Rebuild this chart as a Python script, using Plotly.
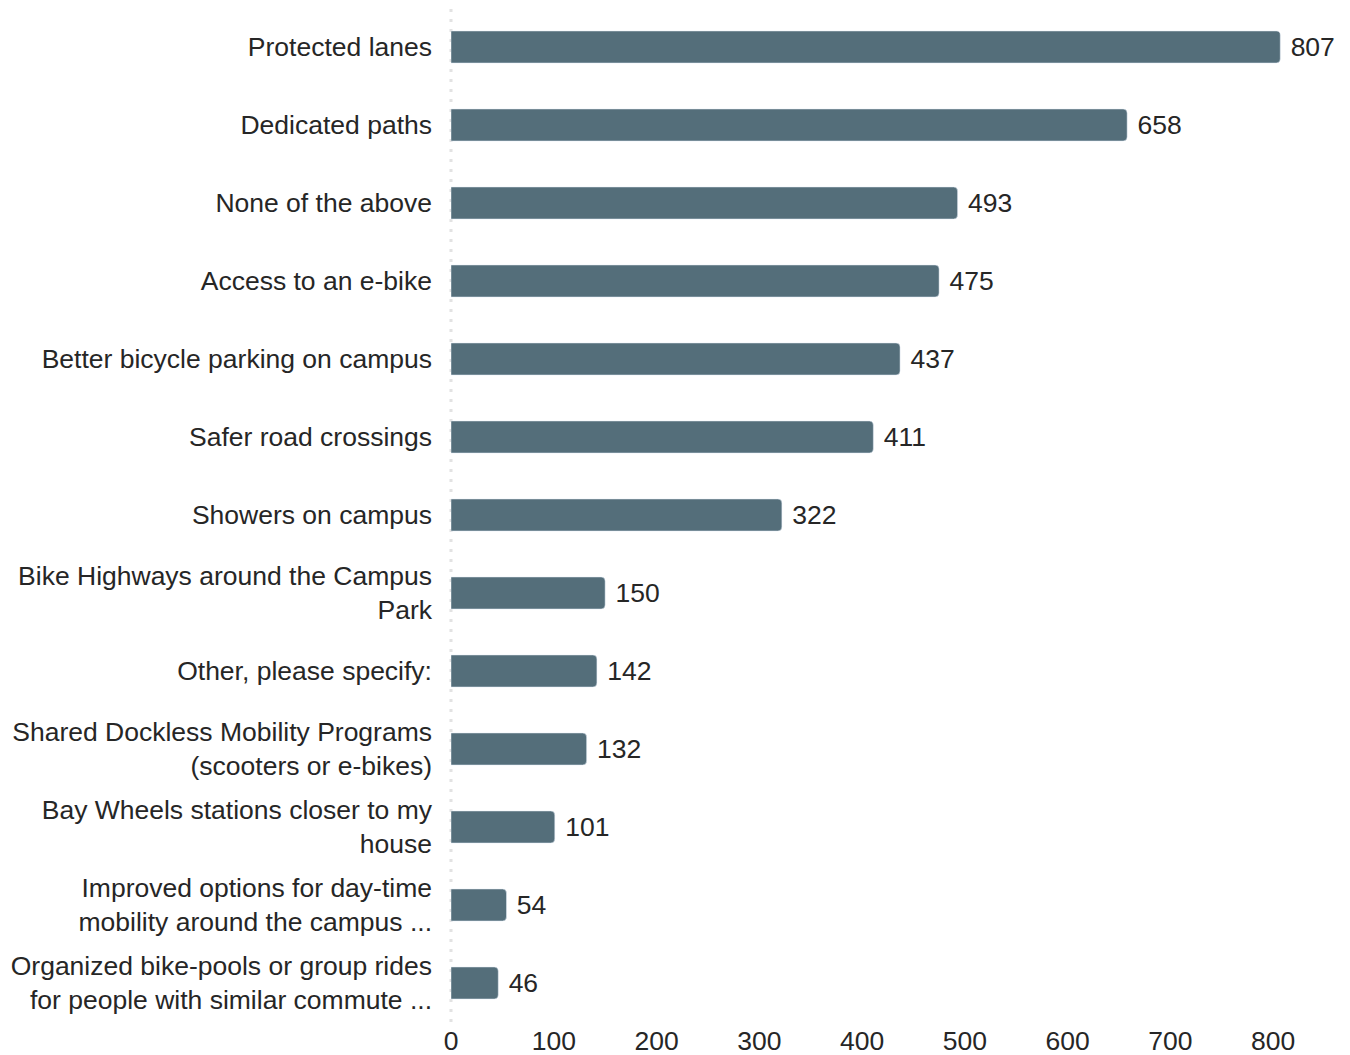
import plotly.graph_objects as go

categories = [
    "Protected lanes",
    "Dedicated paths",
    "None of the above",
    "Access to an e-bike",
    "Better bicycle parking on campus",
    "Safer road crossings",
    "Showers on campus",
    "Bike Highways around the Campus<br>Park",
    "Other, please specify:",
    "Shared Dockless Mobility Programs<br>(scooters or e-bikes)",
    "Bay Wheels stations closer to my<br>house",
    "Improved options for day-time<br>mobility around the campus ...",
    "Organized bike-pools or group rides<br>for people with similar commute ...",
]
values = [807, 658, 493, 475, 437, 411, 322, 150, 142, 132, 101, 54, 46]
x_ticks = [0, 100, 200, 300, 400, 500, 600, 700, 800]

FONT = "Liberation Sans, Arial, sans-serif"
TXT = "#262626"
FS = 26.5

fig = go.Figure(
    go.Bar(
        x=values,
        y=categories,
        orientation="h",
        marker=dict(color="#546E7A", cornerradius=4),
        text=values,
        texttemplate=" %{x}",
        textposition="outside",
        textfont=dict(family=FONT, size=FS, color=TXT),
        cliponaxis=False,
        hoverinfo="skip",
    )
)

# dotted baseline at x = 0 (left edge of the plotting area)
fig.add_shape(
    type="line", xref="paper", yref="paper", x0=0, x1=0, y0=0, y1=1,
    line=dict(color="#e2e2e2", width=3, dash="3px,7px"), layer="below",
)

fig.update_layout(
    width=1342,
    height=1047,
    margin=dict(l=443, r=5, t=0, b=33),
    plot_bgcolor="white",
    paper_bgcolor="white",
    bargap=0.59,
    showlegend=False,
    font=dict(family=FONT, size=FS, color=TXT),
    xaxis=dict(
        range=[0, 870],
        tickvals=x_ticks,
        showgrid=False,
        zeroline=False,
        showline=False,
        ticks="",
        tickfont=dict(family=FONT, size=FS, color=TXT),
    ),
    yaxis=dict(
        autorange="reversed",
        showgrid=False,
        zeroline=False,
        showline=False,
        ticks="",
        ticklabelstandoff=18,
        tickfont=dict(family=FONT, size=FS, color=TXT),
    ),
)

fig.write_html("out.html")
